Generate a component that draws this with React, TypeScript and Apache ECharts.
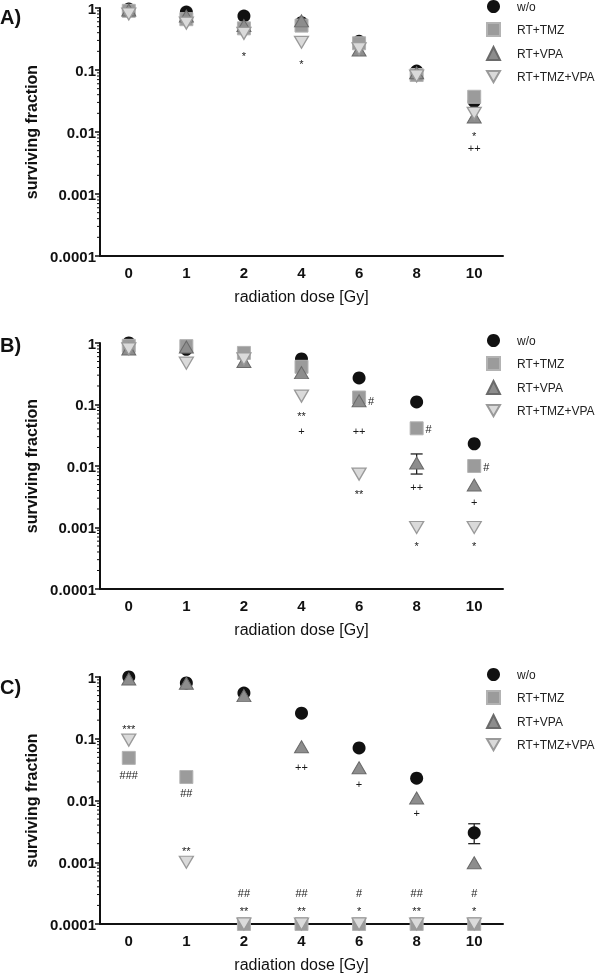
import React, { useEffect, useRef } from "react";
import * as echarts from "echarts";

const FONT = '"Liberation Sans", Arial, Helvetica, sans-serif';

const doses = ["0", "1", "2", "4", "6", "8", "10"];
const seriesNames = ["w/o", "RT+TMZ", "RT+VPA", "RT+TMZ+VPA"];
const yTickLabels = ["0.0001", "0.001", "0.01", "0.1", "1"];
const panelLetters = ["A)", "B)", "C)"];

// Panel A
const woA = [0.96, 0.86, 0.74, 0.58, 0.29, 0.096, 0.031];
const tmzA = [0.9, 0.66, 0.47, 0.52, 0.27, 0.083, 0.037];
const vpaA = [0.93, 0.74, 0.52, 0.62, 0.21, 0.09, 0.0175];
const tmzVpaA = [0.8, 0.57, 0.39, 0.28, 0.22, 0.08, 0.02];

// Panel B
const woB = [1.0, 0.79, 0.65, 0.55, 0.27, 0.11, 0.023];
const tmzB = [0.9, 0.89, 0.69, 0.41, 0.13, 0.041, 0.01];
const vpaB = [0.8, 0.86, 0.5, 0.33, 0.115, 0.0112, 0.0049];
const tmzVpaB = [0.8, 0.47, 0.55, 0.137, 0.0074, 0.001, 0.001];

// Panel C
const woC = [1.0, 0.8, 0.55, 0.26, 0.071, 0.023, 0.003];
const tmzC = [0.049, 0.024, 0.0001, 0.0001, 0.0001, 0.0001, 0.0001];
const vpaC = [0.93, 0.79, 0.5, 0.074, 0.034, 0.011, 0.00098];
const tmzVpaC = [0.095, 0.001, 0.0001, 0.0001, 0.0001, 0.0001, 0.0001];

// Error bars: [dose, low, high]
const errA: [string, number, number][] = [];
const errB: [string, number, number][] = [["8", 0.0074, 0.0157]];
const errC: [string, number, number][] = [["10", 0.002, 0.0042]];

// Significance marks below points: [dose, value, text]
const marksA: [string, number, string][] = [
  ["2", 0.188, "*"],
  ["4", 0.14, "*"],
  ["10", 0.0096, "*"],
  ["10", 0.0055, "++"],
];
const marksB: [string, number, string][] = [
  ["4", 0.073, "**"],
  ["4", 0.037, "+"],
  ["6", 0.037, "++"],
  ["6", 0.0039, "**"],
  ["8", 0.0046, "++"],
  ["8", 0.00056, "*"],
  ["10", 0.0026, "+"],
  ["10", 0.00056, "*"],
];
const marksC: [string, number, string][] = [
  ["0", 0.16, "***"],
  ["0", 0.0259, "###"],
  ["1", 0.0132, "##"],
  ["1", 0.0017, "**"],
  ["2", 0.000318, "##"],
  ["2", 0.000182, "**"],
  ["4", 0.035, "++"],
  ["4", 0.000318, "##"],
  ["4", 0.000182, "**"],
  ["6", 0.0185, "+"],
  ["6", 0.000318, "#"],
  ["6", 0.000182, "*"],
  ["8", 0.0063, "+"],
  ["8", 0.000318, "##"],
  ["8", 0.000182, "**"],
  ["10", 0.000318, "#"],
  ["10", 0.000182, "*"],
];
// Marks placed to the right of points
const sideMarksA: [string, number, string][] = [];
const sideMarksB: [string, number, string][] = [
  ["6", 0.115, "#"],
  ["8", 0.04, "#"],
  ["10", 0.0097, "#"],
];
const sideMarksC: [string, number, string][] = [];

const panels = [
  { values: [woA, tmzA, vpaA, tmzVpaA], err: errA, marks: marksA, side: sideMarksA },
  { values: [woB, tmzB, vpaB, tmzVpaB], err: errB, marks: marksB, side: sideMarksB },
  { values: [woC, tmzC, vpaC, tmzVpaC], err: errC, marks: marksC, side: sideMarksC },
];

const layout = [
  { top: 8, height: 248, legendTop: 0, letterTop: 11 },
  { top: 343, height: 246, legendTop: 334, letterTop: 339 },
  { top: 677, height: 247, legendTop: 668, letterTop: 681 },
];

const INV_TRI = "path://M0,0 L14,0 L7,12 Z";

const styles = [
  { symbol: "circle", symbolSize: 13, itemStyle: { color: "#111111", borderColor: "#111111", borderWidth: 0, opacity: 1 } },
  { symbol: "rect", symbolSize: 13, itemStyle: { color: "#9b9b9b", borderColor: "#b3b3b3", borderWidth: 1, opacity: 1 } },
  { symbol: "triangle", symbolSize: [14, 12], itemStyle: { color: "#8d8d8d", borderColor: "#6a6a6a", borderWidth: 1, opacity: 1 } },
  { symbol: INV_TRI, symbolSize: [14, 12], itemStyle: { color: "#dadada", borderColor: "#9a9a9a", borderWidth: 1.3, opacity: 1 } },
];

const minorTickValues: number[] = [];
for (let e = -4; e < 0; e++) {
  for (let m = 2; m <= 9; m++) minorTickValues.push(m * Math.pow(10, e));
}

function yFormatter(v: number) {
  const e = Math.round(Math.log10(v));
  return yTickLabels[e + 4] ?? "";
}

const markLabel = {
  show: true,
  position: "inside",
  formatter: "{b}",
  fontSize: 11,
  color: "#1a1a1a",
  textBorderWidth: 0,
  fontFamily: FONT,
};

export default function App() {
  const ref = useRef<HTMLDivElement>(null);
  useEffect(() => {
    document.body.style.margin = "0";
    if (!ref.current) return;
    const chart = echarts.init(ref.current, undefined, { renderer: "svg" });

    const grid: any[] = [];
    const xAxis: any[] = [];
    const yAxis: any[] = [];
    const series: any[] = [];
    const legend: any[] = [];
    const title: any[] = [];

    panels.forEach((p, i) => {
      const L = layout[i];
      grid.push({ left: 100, width: 403, top: L.top, height: L.height });
      xAxis.push({
        type: "category",
        gridIndex: i,
        data: doses,
        boundaryGap: true,
        axisLine: { lineStyle: { color: "#111", width: 2 } },
        axisTick: { alignWithLabel: true, length: 5, lineStyle: { color: "#111", width: 1.5 } },
        axisLabel: { fontSize: 15, fontWeight: "bold", color: "#111", margin: 9, fontFamily: FONT },
        name: "radiation dose [Gy]",
        nameLocation: "middle",
        nameGap: 32,
        nameTextStyle: { fontSize: 16, color: "#111", fontFamily: FONT },
        splitLine: { show: false },
      });
      yAxis.push({
        type: "log",
        gridIndex: i,
        logBase: 10,
        min: 0.0001,
        max: 1,
        interval: 1,
        axisLine: { show: true, lineStyle: { color: "#111", width: 2 } },
        axisTick: { show: true, length: 5, lineStyle: { color: "#111", width: 1.5 } },
        splitLine: { show: false },
        axisLabel: {
          formatter: yFormatter,
          fontSize: 15,
          fontWeight: "bold",
          color: "#111",
          margin: 4,
          fontFamily: FONT,
        },
        name: "surviving fraction",
        nameLocation: "middle",
        nameGap: 42,
        nameTextStyle: { fontSize: 16, fontWeight: "bold", color: "#111", fontFamily: FONT },
      });

      // minor log ticks
      series.push({
        type: "custom",
        xAxisIndex: i,
        yAxisIndex: i,
        silent: true,
        clip: false,
        z: 1,
        encode: { x: 0, y: 1 },
        data: minorTickValues.map((v) => [0, v]),
        renderItem: (params: any, api: any) => {
          const y = api.coord([0, api.value(1)])[1];
          const x0 = params.coordSys.x;
          return {
            type: "line",
            shape: { x1: x0 - 3, y1: y, x2: x0, y2: y },
            style: { stroke: "#111", lineWidth: 1 },
          };
        },
      });

      // error bars
      series.push({
        type: "custom",
        xAxisIndex: i,
        yAxisIndex: i,
        silent: true,
        clip: false,
        z: 1,
        encode: { x: 0, y: [1, 2] },
        data: p.err.map((e) => [doses.indexOf(e[0]), e[1], e[2]]),
        renderItem: (params: any, api: any) => {
          const x = api.value(0);
          const lo = api.coord([x, api.value(1)]);
          const hi = api.coord([x, api.value(2)]);
          const w = 6;
          const st = { stroke: "#222", lineWidth: 1.3 };
          return {
            type: "group",
            children: [
              { type: "line", shape: { x1: lo[0], y1: lo[1], x2: hi[0], y2: hi[1] }, style: st },
              { type: "line", shape: { x1: lo[0] - w, y1: lo[1], x2: lo[0] + w, y2: lo[1] }, style: st },
              { type: "line", shape: { x1: hi[0] - w, y1: hi[1], x2: hi[0] + w, y2: hi[1] }, style: st },
            ],
          };
        },
      });

      p.values.forEach((vals, k) => {
        series.push({
          type: "scatter",
          name: seriesNames[k],
          xAxisIndex: i,
          yAxisIndex: i,
          clip: false,
          z: 3 + k,
          symbol: styles[k].symbol,
          symbolSize: styles[k].symbolSize,
          itemStyle: styles[k].itemStyle,
          emphasis: { disabled: true },
          data: vals.map((v, j) => [j, v]),
        });
      });

      series.push({
        type: "scatter",
        xAxisIndex: i,
        yAxisIndex: i,
        clip: false,
        silent: true,
        symbolSize: 0,
        z: 10,
        itemStyle: { color: "#1a1a1a", opacity: 1 },
        label: markLabel,
        data: p.marks.map((m) => ({
          name: m[2],
          value: [doses.indexOf(m[0]), m[1]],
          label: { ...markLabel, offset: m[2].includes("*") ? [0, 3] : [0, 0] },
        })),
      });

      series.push({
        type: "scatter",
        xAxisIndex: i,
        yAxisIndex: i,
        clip: false,
        silent: true,
        symbolSize: 0,
        z: 10,
        itemStyle: { color: "#1a1a1a", opacity: 1 },
        label: { ...markLabel, offset: [12, 0] },
        data: p.side.map((m) => ({ name: m[2], value: [doses.indexOf(m[0]), m[1]] })),
      });

      legend.push({
        data: seriesNames,
        orient: "vertical",
        left: 486,
        top: L.legendTop,
        itemWidth: 13,
        itemHeight: 13,
        itemGap: 9,
        padding: 0,
        selectedMode: false,
        textStyle: { fontSize: 12, color: "#222", fontFamily: FONT, padding: [0, 0, 0, 12] },
      });

      title.push({
        text: panelLetters[i],
        left: 0,
        top: L.letterTop - 4,
        padding: 0,
        textStyle: { fontSize: 20, fontWeight: "bold", color: "#111", fontFamily: FONT },
      });
    });

    chart.setOption({
      animation: false,
      backgroundColor: "#ffffff",
      textStyle: { fontFamily: FONT },
      title,
      legend,
      grid,
      xAxis,
      yAxis,
      series,
    });
    return () => chart.dispose();
  }, []);
  return <div ref={ref} style={{ width: 600, height: 975, filter: "grayscale(1)" }} />;
}
